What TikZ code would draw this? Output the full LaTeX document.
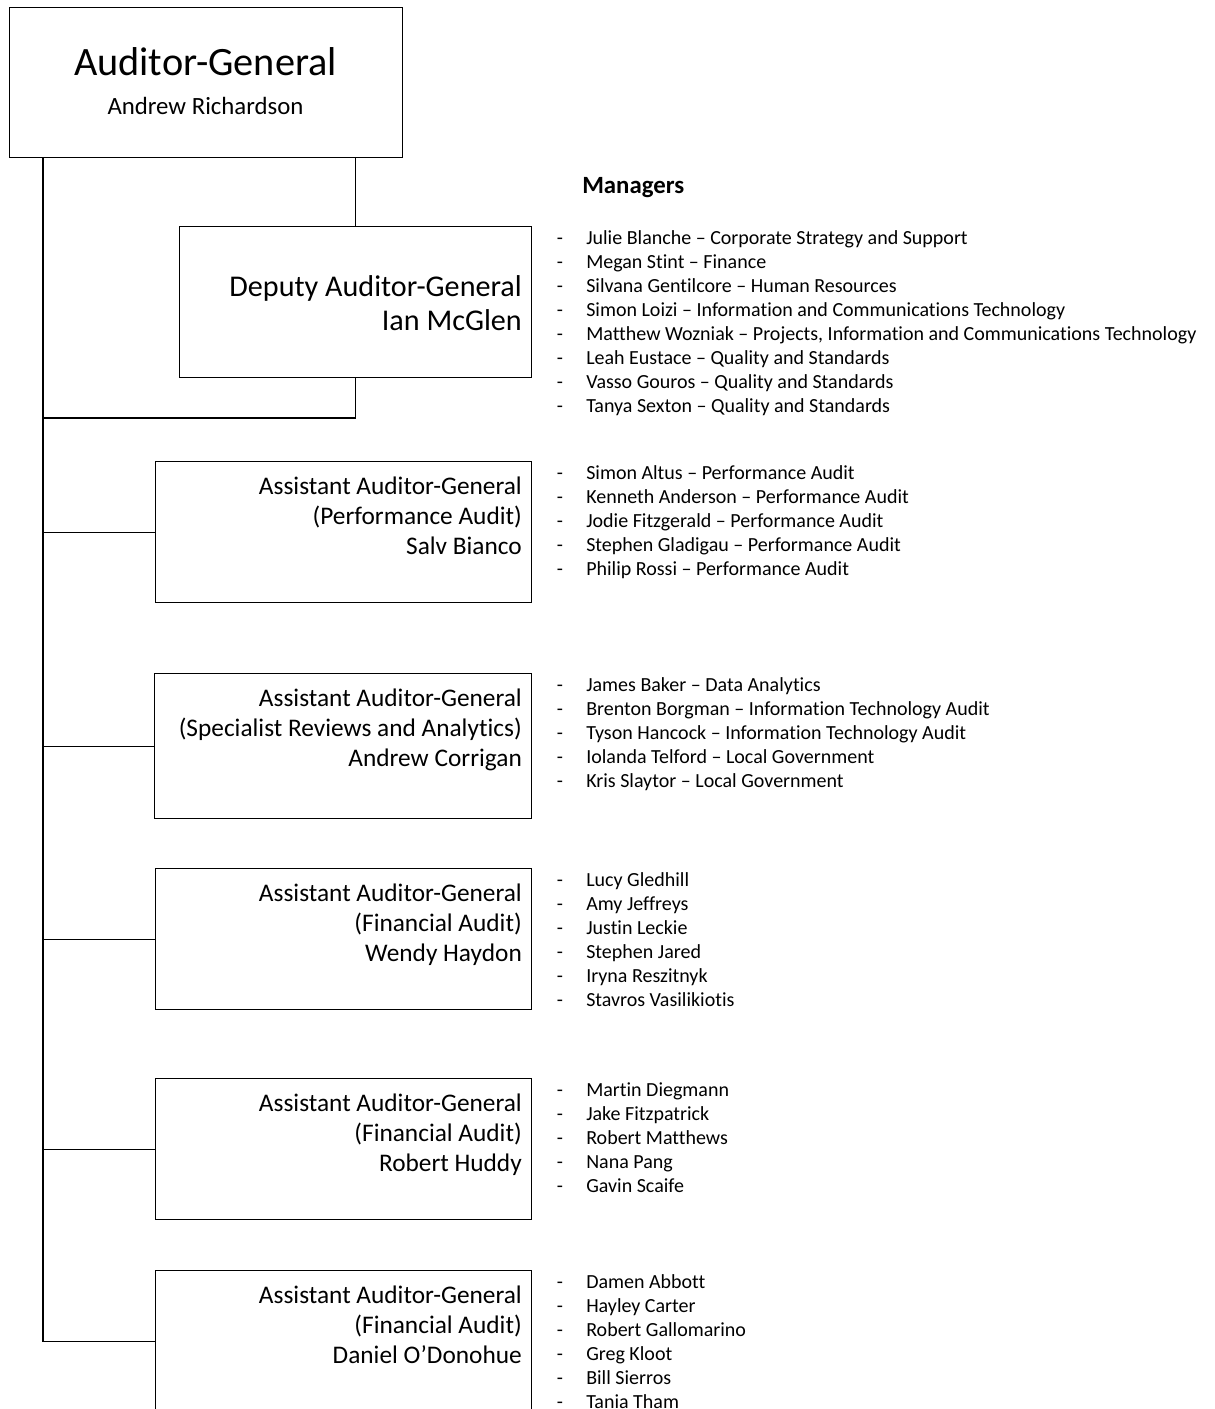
\documentclass[tikz,border=0pt]{standalone}
\usepackage{fontspec}
\setmainfont{Carlito}[Renderer=OpenType, Ligatures=NoCommon]
\usetikzlibrary{positioning}

\tikzset{
  orgbox/.style={draw, line width=0.8pt, inner sep=0pt, anchor=north west,
    minimum width=282pt, minimum height=105.75pt},
  rolename/.style={anchor=base east, inner sep=0pt, font=\fontsize{19}{22}\selectfont},
  listdash/.style={anchor=base, inner sep=0pt, font=\fontsize{15}{18}\selectfont},
  listitem/.style={anchor=base west, inner sep=0pt, font=\fontsize{15}{18}\selectfont},
  link/.style={line width=0.8pt}
}

% one column of managers: group, first baseline, names
\newcommand\managerlist[3]{%
  \foreach \who [count=\k] in {#3}{
    \node[listdash] (d#1-\k) at (560,{#2+24*(\k-1)}) {-};
    \node[listitem] (m#1-\k) at (586,{#2+24*(\k-1)}) {\who};
  }}

\begin{document}
\begin{tikzpicture}[x=0.75pt, y=-0.75pt]
  \useasboundingbox (0,0) rectangle (1214,1409);
  \clip (0,0) rectangle (1214,1409);

  % Auditor-General
  \node[orgbox, minimum width=294.75pt, minimum height=112.5pt] (ag) at (9,7) {};
  \node[anchor=base, inner sep=0pt, font=\fontsize{30.2}{36}\selectfont] (ag-a) at (205.5,76) {Auditor-General};
  \node[anchor=base, inner sep=0pt, font=\fontsize{18.6}{22}\selectfont] (ag-b) at (205.5,115) {Andrew Richardson};

  % Deputy
  \node[orgbox, minimum width=264pt, minimum height=113.25pt] (dag) at (179,226) {};
  \node[rolename, font=\fontsize{22.6}{27}\selectfont] (dag-a) at ([xshift=-7.5pt, yshift=-52.5pt]dag.north east) {Deputy Auditor-General};
  \node[rolename, font=\fontsize{22.6}{27}\selectfont] (dag-b) at ([yshift=-25.5pt]dag-a.base east) {Ian McGlen};

  % Assistants
  \node[orgbox] (aag1) at (155,461) {};
  \node[orgbox, minimum width=282.75pt, minimum height=108.75pt] (aag2) at (154,673) {};
  \node[orgbox] (aag3) at (155,868) {};
  \node[orgbox] (aag4) at (155,1078) {};
  \node[orgbox] (aag5) at (155,1270) {};
  \foreach \bx/\area/\boss in {aag1/Performance Audit/Salv Bianco,
      aag2/Specialist Reviews and Analytics/Andrew Corrigan,
      aag3/Financial Audit/Wendy Haydon,
      aag4/Financial Audit/Robert Huddy,
      aag5/Financial Audit/Daniel O’Donohue}{
    \node[rolename] (\bx-a) at ([xshift=-7.5pt, yshift=-24.75pt]\bx.north east) {Assistant Auditor-General};
    \node[rolename] (\bx-b) at ([yshift=-22.5pt]\bx-a.base east) {(\area)};
    \node[rolename] (\bx-c) at ([yshift=-22.5pt]\bx-b.base east) {\boss};
  }

  % Connectors
  \coordinate (spine) at (43,0);
  \coordinate (djoin) at (43,418);
  \draw[link] (ag.south -| dag.north) -- (dag.north);
  \draw[link] (dag.south) |- (djoin);
  \draw[link] (ag.south -| spine) |- (aag5.west);
  \foreach \bx in {aag1,aag2,aag3,aag4}
    \draw[link] (spine |- \bx.west) -- (\bx.west);

  % Managers
  \node[anchor=base west, inner sep=0pt, font=\bfseries\fontsize{18.6}{22}\selectfont] (mgrs) at (582,194) {Managers};
  \managerlist{1}{244.5}{Julie Blanche – Corporate Strategy and Support,
    Megan Stint – Finance,
    Silvana Gentilcore – Human Resources,
    Simon Loizi – Information and Communications Technology,
    {Matthew Wozniak – Projects, Information and Communications Technology},
    Leah Eustace – Quality and Standards,
    Vasso Gouros – Quality and Standards,
    Tanya Sexton – Quality and Standards}
  \managerlist{2}{479.5}{Simon Altus – Performance Audit,
    Kenneth Anderson – Performance Audit,
    Jodie Fitzgerald – Performance Audit,
    Stephen Gladigau – Performance Audit,
    Philip Rossi – Performance Audit}
  \managerlist{3}{691.5}{James Baker – Data Analytics,
    Brenton Borgman – Information Technology Audit,
    Tyson Hancock – Information Technology Audit,
    Iolanda Telford – Local Government,
    Kris Slaytor – Local Government}
  \managerlist{4}{886.5}{Lucy Gledhill, Amy Jeffreys, Justin Leckie,
    Stephen Jared, Iryna Reszitnyk, Stavros Vasilikiotis}
  \managerlist{5}{1096.5}{Martin Diegmann, Jake Fitzpatrick, Robert Matthews,
    Nana Pang, Gavin Scaife}
  \managerlist{6}{1288.5}{Damen Abbott, Hayley Carter, Robert Gallomarino,
    Greg Kloot, Bill Sierros, Tania Tham}
\end{tikzpicture}
\end{document}
